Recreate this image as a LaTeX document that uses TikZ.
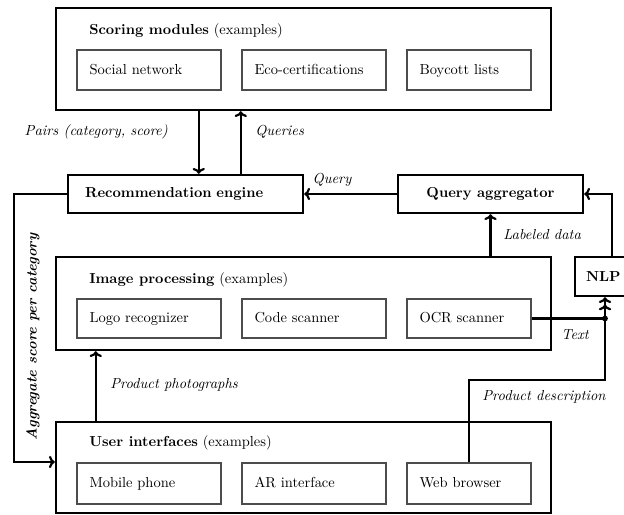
\documentclass[tikz,border=0pt]{standalone}
\usetikzlibrary{arrows.meta,calc}
\def\pxu{0.69pt}
\begin{document}
\begin{tikzpicture}[x=0.69pt,y=-0.69pt,
  bigbox/.style={draw, line width=1.7pt, inner sep=0pt},
  smallbox/.style={draw=black!70, line width=0.9pt, minimum height=40*\pxu, inner ysep=0pt, inner xsep=12.5*\pxu, align=left, text height=1.6ex, text depth=0.3ex},
  ttl/.style={anchor=west, inner sep=0pt},
  lab/.style={inner sep=0pt, font=\itshape},
  arr/.style={line width=1.5pt, -{To[length=4pt,width=8.5pt]}},
  ln/.style={line width=1.5pt}]
\useasboundingbox (0,0) rectangle (624,515);

% Scoring modules
\node[bigbox, minimum width=495*\pxu, minimum height=102*\pxu] (sm) at (303.5,59) {};
\node[ttl] (smt) at (89,31) {\textbf{Scoring modules} (examples)};
\node[smallbox, text width=119*\pxu] (sn) at (149,70) {Social network};
\node[smallbox, text width=119*\pxu] (eco) at (314,70) {Eco-certifications};
\node[smallbox, text width=99*\pxu] (boy) at (469,70) {Boycott lists};

% Recommendation engine
\node[bigbox, minimum height=38*\pxu, text width=201*\pxu, inner xsep=17*\pxu, align=left] (re) at (185.5,194) {\textbf{Recommendation engine}};
% Query aggregator
\node[bigbox, minimum width=185*\pxu, minimum height=38*\pxu] (qa) at (490.5,194) {\textbf{Query aggregator}};

% Image processing
\node[bigbox, minimum width=495*\pxu, minimum height=93*\pxu] (ip) at (303.5,303.5) {};
\node[ttl] (ipt) at (89,280) {\textbf{Image processing} (examples)};
\node[smallbox, text width=119*\pxu, minimum height=39*\pxu] (logo) at (149,318.5) {Logo recognizer};
\node[smallbox, text width=119*\pxu, minimum height=39*\pxu] (code) at (314,318.5) {Code scanner};
\node[smallbox, text width=99*\pxu, minimum height=39*\pxu] (ocr) at (469,318.5) {OCR scanner};

% NLP
\node[bigbox, minimum height=39*\pxu, text width=38*\pxu, inner xsep=11*\pxu, align=left] (nlp) at (605,276.5) {\textbf{NLP}};

% User interfaces
\node[bigbox, minimum width=495*\pxu, minimum height=91*\pxu] (ui) at (303.5,467.5) {};
\node[ttl] (uit) at (89,443) {\textbf{User interfaces} (examples)};
\node[smallbox, text width=119*\pxu, minimum height=41*\pxu] (mob) at (149,483.5) {Mobile phone};
\node[smallbox, text width=119*\pxu, minimum height=41*\pxu] (ar) at (314,483.5) {AR interface};
\node[smallbox, text width=99*\pxu, minimum height=41*\pxu] (web) at (469,483.5) {Web browser};

% Scoring <-> Recommendation
\coordinate (a1) at ($(sm.south west)+(144,0)$);
\coordinate (a2) at ($(sm.south west)+(186,0)$);
\draw[arr] (a1) -- (a1 |- re.north);
\draw[arr] (a2 |- re.north) -- (a2);
\node[lab, anchor=east] (lpairs) at (168,132) {Pairs (category, score)};
\node[lab, anchor=west] (lqueries) at (255,132) {Queries};

% Query
\draw[arr] (qa.west) -- (re.east);
\node[lab] (lquery) at (332,180) {Query};

% NLP -> QA
\coordinate (n1) at ($(nlp.north)+(7,0)$);
\draw[arr] (n1) |- (qa.east);

% Labeled data
\draw[arr] (qa.south |- ip.north) -- (qa.south);
\node[lab, anchor=west] (llab) at (503,235) {Labeled data};

% Text
\coordinate (nb) at ($(nlp.south)+(0,0)$);
\coordinate (jn) at (ocr.east -| nb);
\draw[ln] (ocr.east) -- (jn);
\draw[arr] (jn) -- (nb);
\fill (jn) circle (2pt);
\node[lab] (ltext) at (575,335) {Text};

% Product description
\coordinate (pdc) at (605,380);
\draw[arr, shorten >=5pt] (web.north) |- (pdc) -- (nb);
\node[lab] (lpd) at (544,397) {Product description};

% Product photographs
\coordinate (pp) at ($(ui.north west)+(41,0)$);
\draw[arr] (pp) -- (pp |- ip.south);
\node[lab, anchor=west] (lpp) at (110,385) {Product photographs};

% Aggregate
\coordinate (ag) at (14,462);
\draw[arr] (re.west) -| (ag) -- (ag -| ui.west);
\node[lab, rotate=90, font=\bfseries\itshape] (lag) at (33,337) {Aggregate score per category};
\end{tikzpicture}
\end{document}
